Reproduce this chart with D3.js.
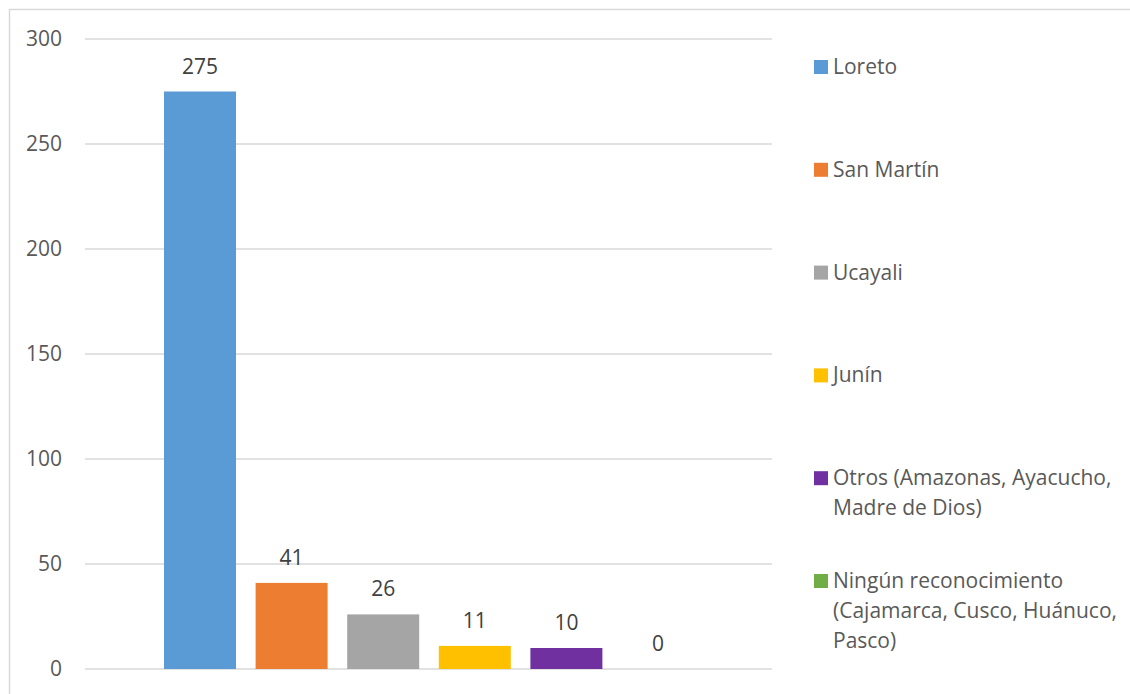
<!DOCTYPE html>
<html>
<head>
<meta charset="utf-8">
<script src="https://cdn.jsdelivr.net/npm/d3@7"></script>
<style>
    body { margin: 0; background: #fff; }
    text { font-family: "Open Sans", sans-serif; }
    .tick-label { fill: #595959; font-size: 21px; }
    .value-label { fill: #404040; font-size: 21px; }
    .legend-label { fill: #595959; font-size: 21px; }
</style>
</head>
<body>
<div id="chart"></div>
<script>
// data
const regions = ["Loreto", "San Martín", "Ucayali", "Junín",
    "Otros (Amazonas, Ayacucho, Madre de Dios)",
    "Ningún reconocimiento (Cajamarca, Cusco, Huánuco, Pasco)"];
const counts = [275, 41, 26, 11, 10, 0];
const yTicks = [0, 50, 100, 150, 200, 250, 300];
// legend text broken into lines as in the original
const legendLines = [
    ["Loreto"],
    ["San Martín"],
    ["Ucayali"],
    ["Junín"],
    ["Otros (Amazonas, Ayacucho,", "Madre de Dios)"],
    ["Ningún reconocimiento", "(Cajamarca, Cusco, Huánuco,", "Pasco)"]
];
const colors = ["#5B9BD5", "#ED7D31", "#A5A5A5", "#FFC000", "#7030A0", "#70AD47"];

const width = 1130, height = 694;

const svg = d3.select("#chart")
    .append("svg")
    .attr("width", width)
    .attr("height", height);

// chart border (runs off the right and bottom edges)
svg.append("rect")
    .attr("x", 9.5)
    .attr("y", 9.5)
    .attr("width", width + 20)
    .attr("height", height + 20)
    .attr("fill", "none")
    .attr("stroke", "#d9d9d9")
    .attr("stroke-width", 1.5);

// scales
const yScale = d3.scaleLinear()
    .domain([0, 300])
    .range([669, 39]);

const xScale = d3.scaleBand()
    .domain(regions)
    .range([164, 694])
    .paddingInner(0.214)
    .paddingOuter(0);

const plotLeft = 85, plotRight = 772;

// gridlines
svg.append("g")
    .selectAll("line")
    .data(yTicks)
    .join("line")
        .attr("x1", plotLeft)
        .attr("x2", plotRight)
        .attr("y1", d => yScale(d))
        .attr("y2", d => yScale(d))
        .attr("stroke", "#d9d9d9")
        .attr("stroke-width", 1.5);

// y-axis labels
const leftAxis = d3.axisLeft(yScale)
    .tickValues(yTicks)
    .tickSize(0)
    .tickPadding(0);

const yAxis = svg.append("g")
    .attr("transform", "translate(62,0)")
    .call(leftAxis);
yAxis.select(".domain").remove();
yAxis.selectAll("text")
    .attr("class", "tick-label")
    .attr("font-family", null)
    .attr("font-size", null);

// bars
svg.append("g")
    .selectAll("rect")
    .data(counts)
    .join("rect")
        .attr("x", (d, i) => xScale(regions[i]))
        .attr("y", d => yScale(d))
        .attr("width", xScale.bandwidth())
        .attr("height", d => yScale(0) - yScale(d))
        .attr("fill", (d, i) => colors[i]);

// value labels
svg.append("g")
    .selectAll("text")
    .data(counts)
    .join("text")
        .attr("class", "value-label")
        .attr("x", (d, i) => xScale(regions[i]) + xScale.bandwidth() / 2)
        .attr("y", d => yScale(d) - 18)
        .attr("text-anchor", "middle")
        .text(d => d);

// legend
const legend = svg.append("g")
    .selectAll("g")
    .data(legendLines)
    .join("g")
        .attr("transform", (d, i) => `translate(814, ${67 + i * 102.8})`);

legend.append("rect")
    .attr("x", 0)
    .attr("y", -7)
    .attr("width", 14)
    .attr("height", 14)
    .attr("fill", (d, i) => colors[i]);

legend.append("text")
    .attr("class", "legend-label")
    .attr("x", 19)
    .attr("y", 7)
    .selectAll("tspan")
    .data(d => d)
    .join("tspan")
        .attr("x", 19)
        .attr("dy", (d, i) => i === 0 ? 0 : 30)
        .text(d => d);
</script>
</body>
</html>
